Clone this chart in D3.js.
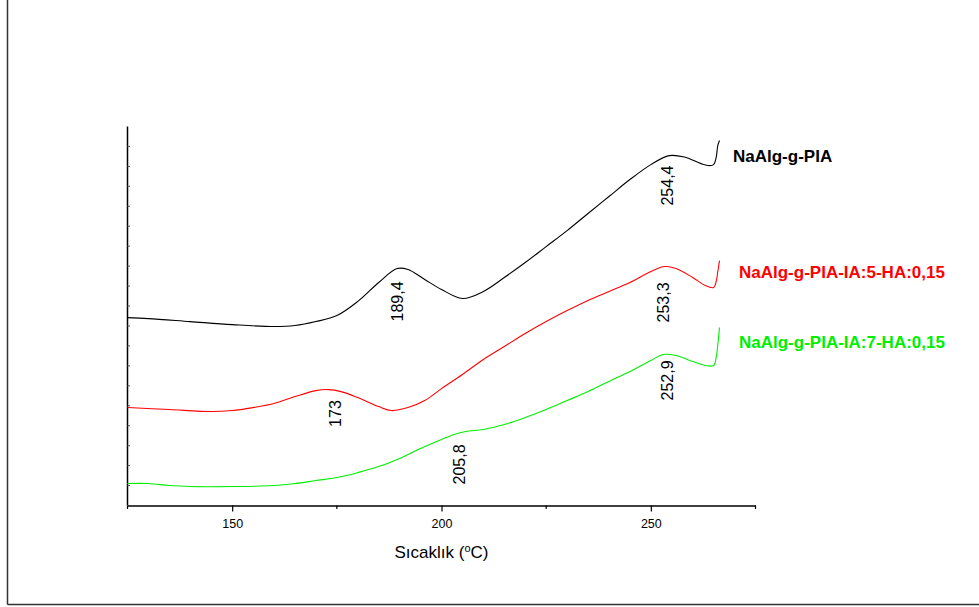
<!DOCTYPE html>
<html><head><meta charset="utf-8">
<script src="https://cdn.jsdelivr.net/npm/d3@7"></script>
<style>
html,body{margin:0;padding:0;background:#fff;}
svg{display:block;font-family:"Liberation Sans",Arial,sans-serif;}
</style></head>
<body>
<script>
// ---- data ----
const temps1 = [125,130,140,150,160,165,170,175,180,185,189.4,192,196,200,205,210,215,220,225,230,235,240,245,250,254.4,258,262,264,265,265.6,266,266.4];
const vals1  = [9.42,9.37,9.22,9.07,8.97,9.02,9.22,9.52,10.23,11.18,11.88,11.83,11.33,10.83,10.38,10.73,11.43,12.18,12.98,13.78,14.64,15.49,16.34,17.09,17.54,17.47,17.14,17.04,17.09,17.44,18.05,18.30];
const temps2 = [125,135,145,150,155,160,165,170,173,176,180,185,188,192,196,200,205,210,215,220,225,230,235,240,245,250,253.3,256,260,263,265,265.6,266,266.4];
const vals2  = [4.91,4.81,4.71,4.76,4.91,5.11,5.46,5.76,5.81,5.71,5.41,4.96,4.76,4.91,5.26,5.86,6.57,7.32,7.97,8.62,9.22,9.77,10.28,10.73,11.18,11.73,11.98,11.88,11.43,11.03,10.93,11.23,11.73,12.28];
const temps3 = [125,130,135,140,150,160,165,170,175,180,185,190,195,200,203,205.8,210,215,220,225,230,235,240,245,250,252.9,256,260,263,265,265.6,266,266.4];
const vals3  = [1.10,1.10,1.00,0.95,0.95,1.00,1.10,1.25,1.40,1.65,1.95,2.36,2.86,3.31,3.56,3.71,3.81,4.06,4.41,4.81,5.26,5.71,6.22,6.72,7.27,7.57,7.52,7.22,7.02,7.02,7.42,8.07,8.92];
const seriesNames = ["NaAlg-g-PIA","NaAlg-g-PIA-IA:5-HA:0,15","NaAlg-g-PIA-IA:7-HA:0,15"];
const seriesColors = ["#000000","#ff0000","#00ee00"];
const legendValues = [17.24, 11.38, 7.92]; // y-level of each series name
const peakTexts = ["254,4","189,4","173","205,8","253,3","252,9"];
const peakTemps = [254.1,189.4,174.6,204.2,253.0,254.1];
const peakVals  = [16.04,10.23,4.61,2.06,10.18,6.27];
const xTicks = [150,200,250];
const xMinorTicks = [125,175,225,275];
const yMinorTicks = d3.range(1,19);

// ---- layout ----
const W = 979, H = 607;
const svg = d3.select("body").append("svg").attr("width",W).attr("height",H);

const x = d3.scaleLinear().domain([125,275]).range([127.5,755.5]);
const y = d3.scaleLinear().domain([0,19]).range([505.5,126.5]);

// page frame (left and bottom)
svg.append("line").attr("x1",7.5).attr("x2",7.5).attr("y1",0).attr("y2",604.5).attr("stroke","#333").attr("stroke-width",1.5);
svg.append("line").attr("x1",7.5).attr("x2",W).attr("y1",604.5).attr("y2",604.5).attr("stroke","#333").attr("stroke-width",1.5);

// x axis
const gx = svg.append("g").attr("transform",`translate(0,${y(0)})`);
gx.call(d3.axisBottom(x).tickValues(xTicks).tickSize(6).tickSizeOuter(0).tickFormat(d3.format("d")));
gx.select(".domain").attr("stroke","#000").attr("stroke-width",1.5);
gx.selectAll(".tick line").attr("stroke-width",1.2);
gx.selectAll(".tick text").attr("font-size","12.5px").attr("font-family","Liberation Sans, Arial, sans-serif").attr("dy","1.1em");
svg.append("g").selectAll("line").data(xMinorTicks).join("line")
  .attr("x1",d=>x(d)).attr("x2",d=>x(d)).attr("y1",y(0)).attr("y2",y(0)+3.5)
  .attr("stroke","#000").attr("stroke-width",1.2);

// y axis
svg.append("line").attr("x1",x(125)).attr("x2",x(125)).attr("y1",y(19)).attr("y2",y(0)).attr("stroke","#000").attr("stroke-width",1.5);
svg.append("g").selectAll("line").data(yMinorTicks).join("line")
  .attr("x1",x(125)).attr("x2",x(125)+2.5).attr("y1",d=>y(d)).attr("y2",d=>y(d))
  .attr("stroke","#555").attr("stroke-width",1);

// x axis title
const t = svg.append("text").attr("x",x(200)).attr("y",558).attr("text-anchor","middle").attr("font-size","17px");
t.append("tspan").text("Sıcaklık (");
t.append("tspan").text("o").attr("font-size","11px").attr("dy","-6");
t.append("tspan").text("C)").attr("dy","6");

// series
const allT = [temps1,temps2,temps3], allV=[vals1,vals2,vals3];
const line = d3.line().x(d=>x(d[0])).y(d=>y(d[1])).curve(d3.curveCatmullRom.alpha(0.5));
allT.forEach((ts,i)=>{
  const pts = ts.map((tt,j)=>[tt,allV[i][j]]);
  svg.append("path").attr("d",line(pts)).attr("fill","none").attr("stroke",seriesColors[i]).attr("stroke-width",1.1);
});

// legend names
const legendX = [733,739,739];
seriesNames.forEach((n,i)=>{
  svg.append("text").attr("x",legendX[i]).attr("y",y(legendValues[i])).text(n)
    .attr("font-size","17px").attr("font-weight","bold").attr("fill",seriesColors[i]);
});

// peak labels
peakTexts.forEach((s,i)=>{
  svg.append("text").attr("transform",`translate(${x(peakTemps[i])},${y(peakVals[i])}) rotate(-90)`)
    .attr("text-anchor","middle").attr("dominant-baseline","central")
    .attr("font-size","16px").attr("fill","#000").text(s);
});
</script>
</body></html>
